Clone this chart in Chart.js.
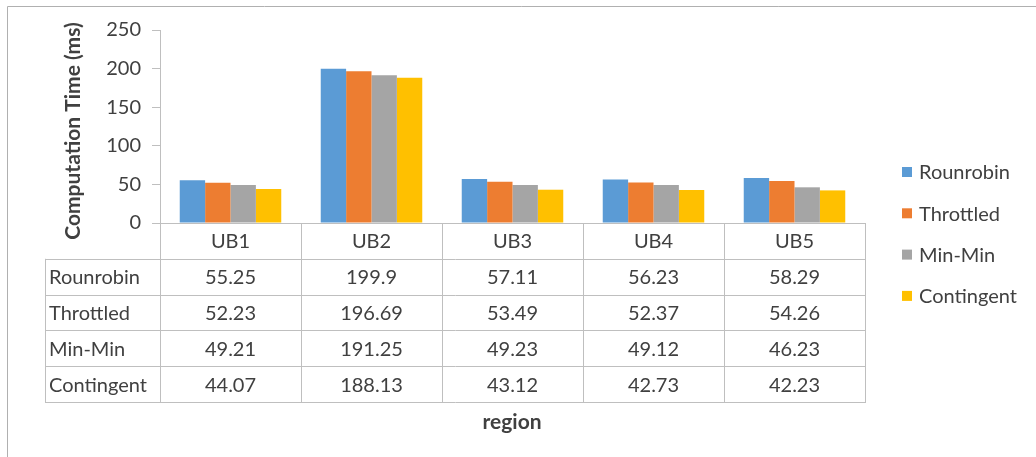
<!DOCTYPE html>
<html>
<head>
<meta charset="utf-8">
<script src="https://cdn.jsdelivr.net/npm/chart.js@4.4.1/dist/chart.umd.min.js"></script>
<style>
  html, body { margin: 0; padding: 0; background: #ffffff; }
  #wrap { position: relative; width: 1036px; height: 457px; }
</style>
</head>
<body>
<div id="wrap"><canvas id="c" width="1036" height="457"></canvas></div>
<script>
const categories = ['UB1', 'UB2', 'UB3', 'UB4', 'UB5'];
const seriesNames = ['Rounrobin', 'Throttled', 'Min-Min', 'Contingent'];
const rounrobin = [55.25, 199.9, 57.11, 56.23, 58.29];
const throttled = [52.23, 196.69, 53.49, 52.37, 54.26];
const minMin = [49.21, 191.25, 49.23, 49.12, 46.23];
const contingent = [44.07, 188.13, 43.12, 42.73, 42.23];
const seriesColors = ['#5B9BD5', '#ED7D31', '#A5A5A5', '#FFC000'];
const yTicks = [0, 50, 100, 150, 200, 250];
const yTitle = 'Computation Time (ms)';
const xTitle = 'region';

const seriesValues = [rounrobin, throttled, minMin, contingent];
const FONT = 'Lato, "Liberation Sans", sans-serif';
const TEXT = '#404040';
const LINE = '#bfbfbf';
const FS = 20;

const tablePlugin = {
  id: 'tablePlugin',
  afterDraw(chart) {
    const ctx = chart.ctx;
    const xs = chart.scales.x;
    const ca = chart.chartArea;
    const n = categories.length;
    const rowH = 35.8;
    const top = ca.bottom;
    const bottom = top + rowH * (seriesNames.length + 1);
    const leftCol = 45;
    const catW = (ca.right - ca.left) / n;

    ctx.save();
    // frame
    ctx.strokeStyle = '#b0b0b0';
    ctx.lineWidth = 1;
    ctx.beginPath();
    ctx.moveTo(7.5, 457);
    ctx.lineTo(7.5, 6.5);
    ctx.lineTo(1036, 6.5);
    ctx.stroke();

    // table grid
    ctx.strokeStyle = LINE;
    ctx.beginPath();
    for (let i = 0; i <= n; i++) {
      const x = Math.round(ca.left + i * catW) + 0.5;
      ctx.moveTo(x, top);
      ctx.lineTo(x, bottom);
    }
    ctx.moveTo(leftCol + 0.5, top + rowH);
    ctx.lineTo(leftCol + 0.5, bottom);
    for (let r = 1; r <= seriesNames.length + 1; r++) {
      const y = Math.round(top + r * rowH) + 0.5;
      ctx.moveTo(leftCol, y);
      ctx.lineTo(ca.right + 1, y);
    }
    ctx.stroke();

    // header text
    ctx.fillStyle = TEXT;
    ctx.font = FS + 'px ' + FONT;
    ctx.textBaseline = 'middle';
    ctx.textAlign = 'center';
    categories.forEach((c, i) => {
      const cx = xs.getPixelForValue(i);
      ctx.fillText(c, cx, top + rowH / 2 + 1);
    });
    // rows
    seriesNames.forEach((name, r) => {
      const cy = top + rowH * (r + 1.5) + 1;
      ctx.textAlign = 'left';
      ctx.fillText(name, leftCol + 4, cy);
      ctx.textAlign = 'center';
      seriesValues[r].forEach((v, i) => {
        ctx.fillText(String(v), xs.getPixelForValue(i), cy);
      });
    });

    // x title
    ctx.font = 'bold 21px ' + FONT;
    ctx.textAlign = 'center';
    ctx.fillText(xTitle, 512, 422);

    // y title
    ctx.save();
    ctx.translate(73, 131);
    ctx.rotate(-Math.PI / 2);
    ctx.fillText(yTitle, 0, 0);
    ctx.restore();

    // legend
    ctx.font = FS + 'px ' + FONT;
    ctx.textAlign = 'left';
    seriesNames.forEach((name, i) => {
      const cy = 172 + i * 41.3;
      ctx.fillStyle = seriesColors[i];
      ctx.fillRect(902, cy - 5, 10, 10);
      ctx.fillStyle = TEXT;
      ctx.fillText(name, 919, cy + 1);
    });
    ctx.restore();
  }
};

new Chart(document.getElementById('c'), {
  type: 'bar',
  data: {
    labels: categories,
    datasets: seriesNames.map((name, i) => ({
      label: name,
      data: seriesValues[i],
      backgroundColor: seriesColors[i],
      borderWidth: 0,
      categoryPercentage: 0.72,
      barPercentage: 1.0
    }))
  },
  options: {
    responsive: false,
    animation: false,
    devicePixelRatio: 1,
    layout: { padding: { left: 0, right: 171, top: 30, bottom: 234 } },
    plugins: {
      legend: { display: false },
      tooltip: { enabled: false },
      title: { display: false }
    },
    scales: {
      x: {
        type: 'category',
        offset: true,
        ticks: { display: false },
        grid: { display: true, drawOnChartArea: false, drawTicks: false, color: LINE },
        border: { display: true, color: LINE, width: 1 },
        afterFit: s => { s.height = 0; }
      },
      y: {
        min: 0,
        max: 250,
        afterBuildTicks: s => { s.ticks = yTicks.map(v => ({ value: v })); },
        ticks: {
          color: TEXT,
          font: { family: FONT, size: FS },
          padding: 11
        },
        grid: { display: true, drawOnChartArea: false, drawTicks: true, tickLength: 8, tickColor: LINE, color: LINE },
        border: { display: true, color: LINE, width: 1 },
        title: { display: false, text: yTitle },
        afterFit: s => { s.width = 160; }
      }
    }
  },
  plugins: [tablePlugin]
});
</script>
</body>
</html>
